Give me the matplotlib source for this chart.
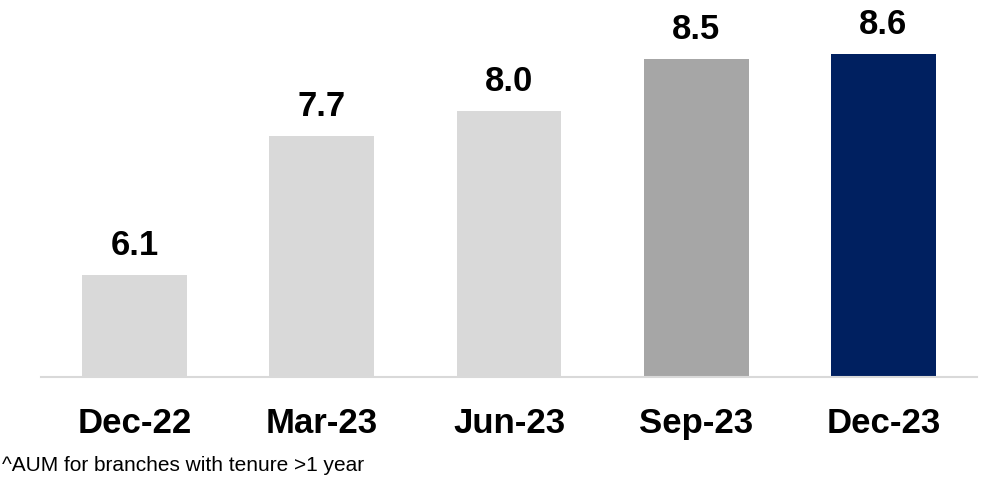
import matplotlib
matplotlib.use("Agg")
import matplotlib.pyplot as plt

categories = ["Dec-22", "Mar-23", "Jun-23", "Sep-23", "Dec-23"]
values = [6.10, 7.67, 7.96, 8.54, 8.60]
colors = ["#d9d9d9", "#d9d9d9", "#d9d9d9", "#a6a6a6", "#002060"]
footnote = "^AUM for branches with tenure >1 year"

plt.rcParams['font.family'] = ['Liberation Sans', 'DejaVu Sans']

W, H = 982, 481
fig = plt.figure(figsize=(W / 100, H / 100), dpi=100)
base_px = 378.3
ax = fig.add_axes([41 / W, (H - base_px) / H, 936 / W, base_px / H])

x = list(range(len(categories)))
bars = ax.bar(x, values, width=0.56, color=colors, zorder=2)
ax.set_xlim(-0.5, len(categories) - 0.5)
ax.set_ylim(4.943, 9.222)

for xi, v in zip(x, values):
    ax.annotate(f"{v:.1f}", (xi, v), xytext=(0, 10), textcoords="offset points",
                ha="center", va="bottom", fontsize=25, fontweight="bold", color="black")

for s in ["top", "right", "left"]:
    ax.spines[s].set_visible(False)
ax.spines["bottom"].set_color("#d9d9d9")
ax.spines["bottom"].set_linewidth(1.5)
ax.set_yticks([])
ax.set_xticks(x)
ax.set_xticklabels(categories, fontsize=25, fontweight="bold")
ax.tick_params(axis="x", length=0, pad=21)

fig.text(2 / W, 1 - 456 / H, footnote, fontsize=15, ha="left", va="top", color="black")

fig.savefig("out.png", dpi=100)
